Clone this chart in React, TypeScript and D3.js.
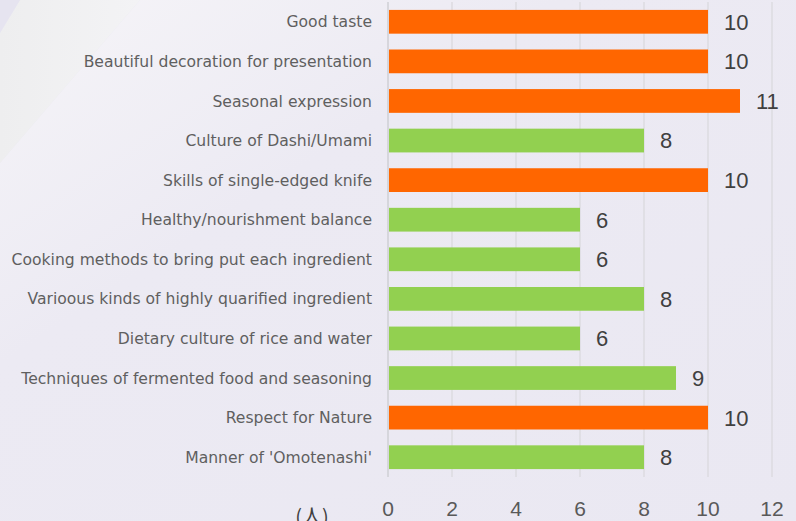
import React from "react";
import * as d3 from "d3";

const categories = [
  "Good taste",
  "Beautiful decoration for presentation",
  "Seasonal expression",
  "Culture of Dashi/Umami",
  "Skills of single-edged knife",
  "Healthy/nourishment balance",
  "Cooking methods to bring put each ingredient",
  "Varioous kinds of highly quarified ingredient",
  "Dietary culture of rice and water",
  "Techniques of fermented food and seasoning",
  "Respect for Nature",
  "Manner of 'Omotenashi'",
];
const values = [10, 10, 11, 8, 10, 6, 6, 8, 6, 9, 10, 8];
const highlighted = [true, true, true, false, true, false, false, false, false, false, true, false];
const ticks = [0, 2, 4, 6, 8, 10, 12];
const unitLabel = "(人)";

const W = 796;
const H = 521;

export default function App() {
  const x = d3.scaleLinear().domain([0, 12]).range([388, 772]);
  const y = d3
    .scaleBand<string>()
    .domain(categories)
    .range([2, 477])
    .paddingInner(0.4)
    .paddingOuter(0.2);
  const labelFont = "'DejaVu Sans', 'Open Sans', sans-serif";
  const numFont = "'Liberation Sans', Arial, sans-serif";
  return (
    <svg
      width={W}
      height={H}
      style={{ position: "absolute", left: 0, top: 0 }}
      xmlns="http://www.w3.org/2000/svg"
    >
      <defs>
        <linearGradient id="bgGrad" x1="0" y1="0" x2="1" y2="1">
          <stop offset="0" stopColor="#F6F5F8" />
          <stop offset="0.35" stopColor="#ECEAF3" />
          <stop offset="1" stopColor="#EAE8F2" />
        </linearGradient>
        <linearGradient id="bandGrad" x1="0" y1="0" x2="1" y2="0">
          <stop offset="0" stopColor="#EEEEEF" />
          <stop offset="1" stopColor="#F3F3F5" />
        </linearGradient>
      </defs>
      <rect x={0} y={0} width={W} height={H} fill="#EAE8F2" />
      <polygon points="140,0 796,0 796,521 0,521 0,163" fill="url(#bgGrad)" />
      <polygon points="20,0 140,0 0,163 0,33" fill="url(#bandGrad)" />
      <polygon points="0,0 20,0 0,33" fill="#E6E4F0" />

      {ticks.map((t) => (
        <line
          key={"g" + t}
          x1={x(t)}
          x2={x(t)}
          y1={2}
          y2={477}
          stroke={t === 0 ? "#CFCFD4" : "#DCDBE0"}
          strokeWidth={1.5}
        />
      ))}

      {categories.map((c, i) => (
        <g key={c}>
          <rect
            x={x(0) + 1}
            y={y(c)!}
            width={x(values[i]) - x(0) - 1}
            height={y.bandwidth()}
            fill={highlighted[i] ? "#FF6600" : "#92D050"}
          />
          <text
            x={372}
            y={y(c)! + y.bandwidth() / 2}
            dy="0.36em"
            textAnchor="end"
            fontFamily={labelFont}
            fontSize={15.6}
            fill="#5F5F5F"
          >
            {c}
          </text>
          <text
            x={x(values[i]) + 16}
            y={y(c)! + y.bandwidth() / 2}
            dy="0.36em"
            fontFamily={numFont}
            fontSize={22}
            fill="#404040"
          >
            {values[i]}
          </text>
        </g>
      ))}

      {ticks.map((t) => (
        <text
          key={"t" + t}
          x={x(t)}
          y={516}
          textAnchor="middle"
          fontFamily={numFont}
          fontSize={21}
          fill="#595959"
        >
          {t}
        </text>
      ))}
      <text
        x={312}
        y={524}
        textAnchor="middle"
        fontFamily="'Noto Sans CJK JP', sans-serif"
        fontSize={20}
        fill="#404040"
      >
        {unitLabel}
      </text>
    </svg>
  );
}
